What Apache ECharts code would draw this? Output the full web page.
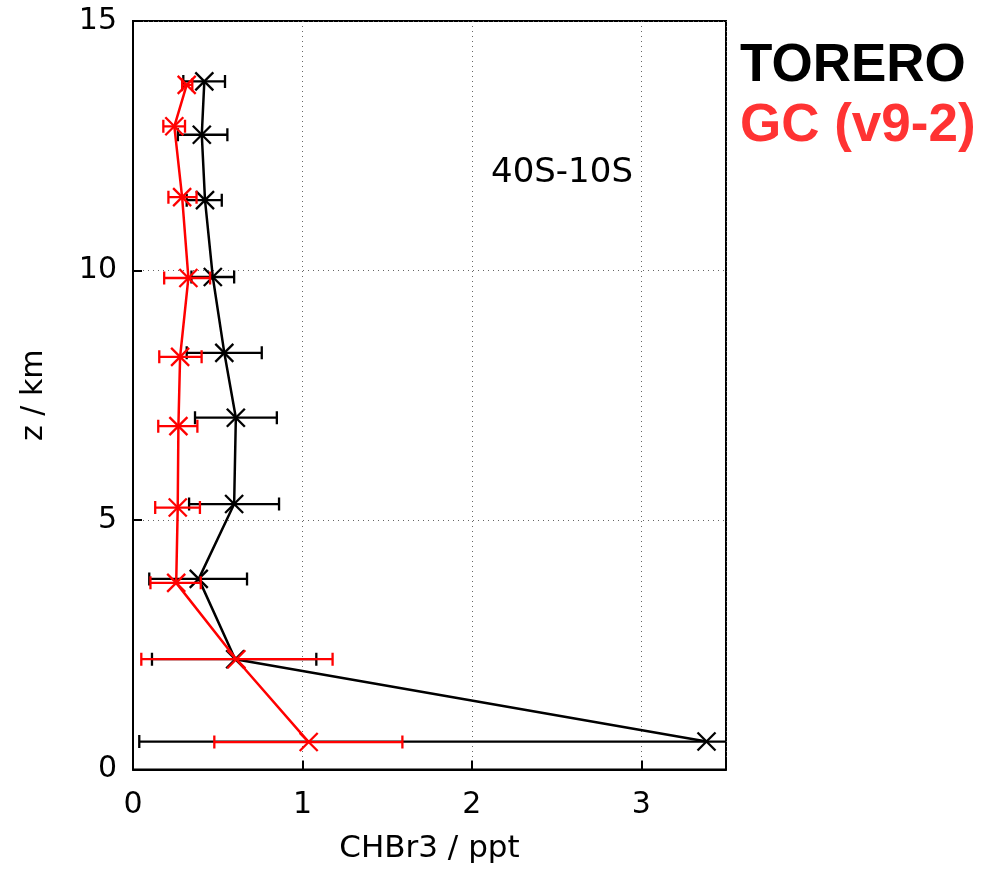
<!DOCTYPE html>
<html>
<head>
<meta charset="utf-8">
<script src="https://cdn.jsdelivr.net/npm/echarts@6/dist/echarts.min.js"></script>
<style>html,body{margin:0;padding:0;background:#fff}#c{width:994px;height:874px}</style>
</head>
<body>
<div id="c"></div>
<script>
// TORERO observations
const toreroZ  = [0.56, 2.21, 3.82, 5.32, 7.05, 8.35, 9.87, 11.41, 12.72, 13.79];
const toreroX  = [3.385, 0.603, 0.388, 0.597, 0.607, 0.539, 0.471, 0.425, 0.406, 0.421];
const toreroLo = [0.037, 0.112, 0.096, 0.331, 0.366, 0.317, 0.345, 0.317, 0.265, 0.297];
const toreroHi = [6.73, 1.082, 0.673, 0.862, 0.849, 0.760, 0.597, 0.524, 0.557, 0.543];
// GEOS-Chem v9-2 model
const gcZ  = [0.55, 2.21, 3.74, 5.25, 6.88, 8.27, 9.85, 11.47, 12.89, 13.72];
const gcX  = [1.037, 0.61, 0.255, 0.264, 0.268, 0.278, 0.327, 0.290, 0.244, 0.317];
const gcLo = [0.48, 0.049, 0.103, 0.131, 0.149, 0.155, 0.184, 0.209, 0.179, 0.290];
const gcHi = [1.59, 1.178, 0.400, 0.395, 0.380, 0.405, 0.455, 0.375, 0.307, 0.350];

const xTicks = [0, 1, 2, 3];
const yTicks = [0, 5, 10, 15];

function pairs(xs, zs) { return xs.map((x, i) => [x, zs[i]]); }
function errData(xs, zs, lo, hi) { return xs.map((x, i) => [x, zs[i], lo[i], hi[i]]); }

function makeRender(color) {
  return function (params, api) {
    const z = api.value(1);
    const c = api.coord([api.value(0), z]);
    const l = api.coord([api.value(2), z]);
    const h = api.coord([api.value(3), z]);
    const cap = 6.5, m = 9;
    const st = { stroke: color, lineWidth: 2.3, fill: null };
    return {
      type: 'group',
      children: [
        { type: 'line', shape: { x1: l[0], y1: l[1], x2: h[0], y2: h[1] }, style: st },
        { type: 'line', shape: { x1: l[0], y1: l[1] - cap, x2: l[0], y2: l[1] + cap }, style: st },
        { type: 'line', shape: { x1: h[0], y1: h[1] - cap, x2: h[0], y2: h[1] + cap }, style: st },
        { type: 'line', shape: { x1: c[0] - m, y1: c[1] - m, x2: c[0] + m, y2: c[1] + m }, style: st },
        { type: 'line', shape: { x1: c[0] - m, y1: c[1] + m, x2: c[0] + m, y2: c[1] - m }, style: st }
      ]
    };
  };
}

const FONT = '"DejaVu Sans", sans-serif';
const chart = echarts.init(document.getElementById('c'), null, { renderer: 'canvas' });
chart.setOption({
  animation: false,
  backgroundColor: '#fff',
  grid: { left: 133, top: 21, right: 268, bottom: 104.5, show: true, borderColor: '#000', borderWidth: 2, backgroundColor: 'transparent' },
  xAxis: {
    type: 'value', min: 0, max: 3.5, interval: 1,
    name: 'CHBr3 / ppt', nameLocation: 'middle', nameGap: 64,
    nameTextStyle: { fontFamily: FONT, fontSize: 31, color: '#000' },
    axisLine: { show: true, lineStyle: { color: '#000', width: 2 } },
    axisTick: { show: true, inside: true, length: 9, lineStyle: { color: '#000', width: 2 } },
    axisLabel: { fontFamily: FONT, fontSize: 30, color: '#000', margin: 21,
      formatter: v => (xTicks.indexOf(v) >= 0 ? String(v) : '') },
    splitLine: { show: true, lineStyle: { color: '#666', width: 1, type: [1, 4] } }
  },
  yAxis: {
    type: 'value', min: 0, max: 15, interval: 5,
    name: 'z / km', nameLocation: 'middle', nameGap: 84, nameRotate: 90,
    nameTextStyle: { fontFamily: FONT, fontSize: 30, color: '#000' },
    axisLine: { show: true, lineStyle: { color: '#000', width: 2 } },
    axisTick: { show: true, inside: true, length: 9, lineStyle: { color: '#000', width: 2 } },
    axisLabel: { fontFamily: FONT, fontSize: 30, color: '#000', margin: 16,
      formatter: v => (yTicks.indexOf(v) >= 0 ? String(v) : '') },
    splitLine: { show: true, lineStyle: { color: '#666', width: 1, type: [1, 4] } }
  },
  series: [
    { name: 'TORERO', type: 'line', data: pairs(toreroX, toreroZ), symbol: 'none',
      lineStyle: { color: '#000', width: 2.5 }, z: 2 },
    { name: 'TORERO err', type: 'custom', data: errData(toreroX, toreroZ, toreroLo, toreroHi),
      encode: { x: [0, 2, 3], y: 1 }, renderItem: makeRender('#000'), clip: true, z: 3 },
    { name: 'GC (v9-2)', type: 'line', data: pairs(gcX, gcZ), symbol: 'none',
      lineStyle: { color: '#ff0000', width: 2.5 }, z: 4 },
    { name: 'GC err', type: 'custom', data: errData(gcX, gcZ, gcLo, gcHi),
      encode: { x: [0, 2, 3], y: 1 }, renderItem: makeRender('#ff0000'), clip: true, z: 5 }
  ],
  graphic: [
    { type: 'text', left: 740, top: 40, style: { text: 'TORERO', font: 'bold 53px "Liberation Sans", Arial, sans-serif', fill: '#000' } },
    { type: 'text', left: 740, top: 100, style: { text: 'GC (v9-2)', font: 'bold 53px "Liberation Sans", Arial, sans-serif', fill: '#ff3333' } },
    { type: 'text', left: 491, top: 156, style: { text: '40S-10S', font: '34px "DejaVu Sans", sans-serif', fill: '#000' } }
  ]
});
</script>
</body>
</html>
